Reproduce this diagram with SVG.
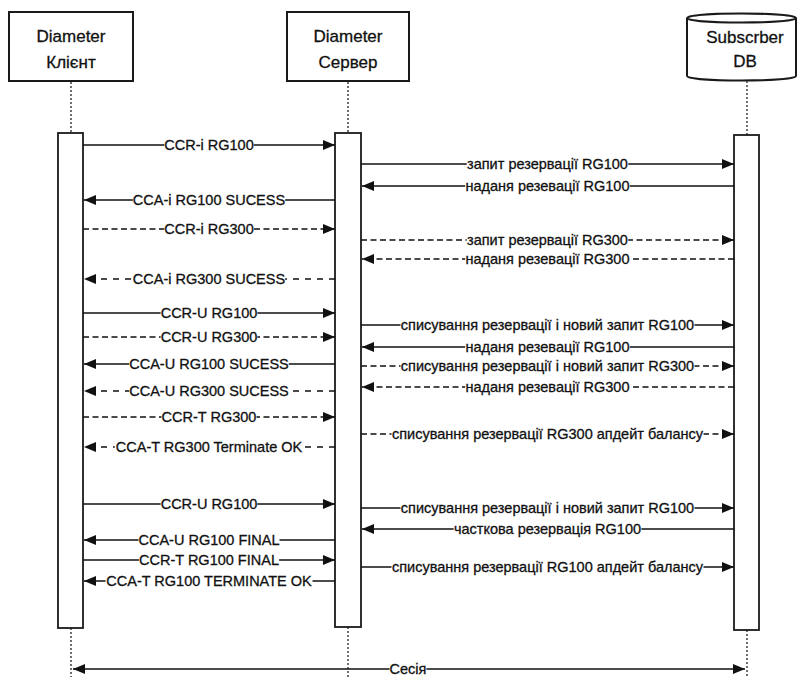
<svg xmlns="http://www.w3.org/2000/svg" width="798" height="677" viewBox="0 0 798 677">
<style>
.box{fill:#fff;stroke:#1a1a1a;stroke-width:2}
.bar{fill:#fff;stroke:#1a1a1a;stroke-width:1.8}
.life{stroke:#333;stroke-width:1.4;stroke-dasharray:2 2;fill:none}
.hdr{font-family:"Liberation Sans",Arial,sans-serif;font-size:17px;fill:#111;stroke:#111;stroke-width:0.3;text-anchor:middle}
.lbl{font-family:"Liberation Sans",Arial,sans-serif;font-size:14.5px;fill:#111;stroke:#111;stroke-width:0.3;text-anchor:middle}
.m{stroke:#111;stroke-width:1.5;fill:none;marker-end:url(#ah)}
.d{stroke-dasharray:6 3.5}
.d2{stroke-dasharray:6 6}
.bg{fill:#fff}
</style>
<defs>
<marker id="ah" viewBox="0 0 12 10" refX="12" refY="5" markerWidth="12" markerHeight="10" orient="auto-start-reverse" markerUnits="userSpaceOnUse"><path d="M0,0 L12,5 L0,10 z" fill="#111"/></marker>
</defs>
<rect width="798" height="677" fill="#fff"/>
<g id="client">
<rect class="box" x="9" y="12" width="124" height="69"/>
<text class="hdr" x="71" y="42">Diameter</text>
<text class="hdr" x="71" y="68">Клієнт</text>
<line class="life" x1="71" y1="82" x2="71" y2="133"/>
<line class="life" x1="71" y1="628" x2="71" y2="677"/>
<rect class="bar" x="58" y="133" width="25" height="495"/>
</g>
<g id="server">
<rect class="box" x="287" y="12" width="122" height="69"/>
<text class="hdr" x="348" y="42">Diameter</text>
<text class="hdr" x="348" y="68">Сервер</text>
<line class="life" x1="348" y1="82" x2="348" y2="133"/>
<line class="life" x1="348" y1="627" x2="348" y2="677"/>
<rect class="bar" x="335" y="133" width="26" height="494"/>
</g>
<g id="db">
<path class="box" d="M687,18 L687,76 A54.5,4.5 0 0 0 796,76 L796,18"/>
<ellipse class="box" cx="741.5" cy="18" rx="54.5" ry="4.5"/>
<text class="hdr" x="745" y="43">Subscrber</text>
<text class="hdr" x="745" y="67">DB</text>
<line class="life" x1="747" y1="81" x2="747" y2="135"/>
<line class="life" x1="747" y1="630" x2="747" y2="677"/>
<rect class="bar" x="734" y="135" width="25" height="495"/>
</g>
<g id="connectors">
<line class="m" x1="83" y1="145" x2="335" y2="145"/>
<rect class="bg" x="164.3" y="142.5" width="89.4" height="5"/><text class="lbl" x="209" y="150">CCR-i RG100</text>
<line class="m" x1="335" y1="200" x2="84" y2="200"/>
<rect class="bg" x="132.85" y="197.5" width="152.3" height="5"/><text class="lbl" x="209" y="205">CCA-i RG100 SUCESS</text>
<line class="m d" x1="83" y1="229" x2="335" y2="229"/>
<rect class="bg" x="164.3" y="226.5" width="89.4" height="5"/><text class="lbl" x="209" y="234">CCR-i RG300</text>
<line class="m d2" x1="335" y1="279" x2="84" y2="279"/>
<rect class="bg" x="132.85" y="276.5" width="152.3" height="5"/><text class="lbl" x="209" y="284">CCA-i RG300 SUCESS</text>
<line class="m" x1="83" y1="313" x2="335" y2="313"/>
<rect class="bg" x="160.65" y="310.5" width="96.7" height="5"/><text class="lbl" x="209" y="318">CCR-U RG100</text>
<line class="m d" x1="83" y1="337" x2="335" y2="337"/>
<rect class="bg" x="160.65" y="334.5" width="96.7" height="5"/><text class="lbl" x="209" y="342">CCR-U RG300</text>
<line class="m" x1="335" y1="364" x2="84" y2="364"/>
<rect class="bg" x="129.25" y="361.5" width="159.5" height="5"/><text class="lbl" x="209" y="369">CCA-U RG100 SUCESS</text>
<line class="m d2" x1="335" y1="391" x2="84" y2="391"/>
<rect class="bg" x="129.25" y="388.5" width="159.5" height="5"/><text class="lbl" x="209" y="396">CCA-U RG300 SUCESS</text>
<line class="m d" x1="83" y1="417" x2="335" y2="417"/>
<rect class="bg" x="161.45" y="414.5" width="95.1" height="5"/><text class="lbl" x="209" y="422">CCR-T RG300</text>
<line class="m d2" x1="335" y1="447" x2="84" y2="447"/>
<rect class="bg" x="114.75" y="444.5" width="188.5" height="5"/><text class="lbl" x="209" y="452">CCA-T RG300 Terminate OK</text>
<line class="m" x1="83" y1="504" x2="335" y2="504"/>
<rect class="bg" x="160.65" y="501.5" width="96.7" height="5"/><text class="lbl" x="209" y="509">CCR-U RG100</text>
<line class="m" x1="335" y1="540" x2="84" y2="540"/>
<rect class="bg" x="138.5" y="537.5" width="141" height="5"/><text class="lbl" x="209" y="545">CCA-U RG100 FINAL</text>
<line class="m" x1="83" y1="560" x2="335" y2="560"/>
<rect class="bg" x="138.9" y="557.5" width="140.2" height="5"/><text class="lbl" x="209" y="565">CCR-T RG100 FINAL</text>
<line class="m" x1="335" y1="581" x2="84" y2="581"/>
<rect class="bg" x="105.5" y="578.5" width="207" height="5"/><text class="lbl" x="209" y="586">CCA-T RG100 TERMINATE OK</text>

<line class="m" x1="361" y1="164" x2="734" y2="164"/>
<rect class="bg" x="466.75" y="161.5" width="161.5" height="5"/><text class="lbl" x="547.5" y="169">запит резервації RG100</text>
<line class="m" x1="734" y1="186" x2="362" y2="186"/>
<rect class="bg" x="465.2" y="183.5" width="164.6" height="5"/><text class="lbl" x="547.5" y="191">наданя резевації RG100</text>
<line class="m d" x1="361" y1="240" x2="734" y2="240"/>
<rect class="bg" x="466.75" y="237.5" width="161.5" height="5"/><text class="lbl" x="547.5" y="245">запит резервації RG300</text>
<line class="m d" x1="734" y1="259" x2="362" y2="259"/>
<rect class="bg" x="465.2" y="256.5" width="164.6" height="5"/><text class="lbl" x="547.5" y="264">наданя резевації RG300</text>
<line class="m" x1="361" y1="325" x2="734" y2="325"/>
<rect class="bg" x="400.5" y="322.5" width="294" height="5"/><text class="lbl" x="547.5" y="330">списування резервації і новий запит RG100</text>
<line class="m" x1="734" y1="347" x2="362" y2="347"/>
<rect class="bg" x="465.2" y="344.5" width="164.6" height="5"/><text class="lbl" x="547.5" y="352">наданя резевації RG100</text>
<line class="m d" x1="361" y1="366" x2="734" y2="366"/>
<rect class="bg" x="400.5" y="363.5" width="294" height="5"/><text class="lbl" x="547.5" y="371">списування резервації і новий запит RG300</text>
<line class="m d" x1="734" y1="387" x2="362" y2="387"/>
<rect class="bg" x="465.2" y="384.5" width="164.6" height="5"/><text class="lbl" x="547.5" y="392">наданя резевації RG300</text>
<line class="m d" x1="361" y1="434" x2="734" y2="434"/>
<rect class="bg" x="391.5" y="431.5" width="312" height="5"/><text class="lbl" x="547.5" y="439">списування резервації RG300 апдейт балансу</text>
<line class="m" x1="361" y1="508" x2="734" y2="508"/>
<rect class="bg" x="400.5" y="505.5" width="294" height="5"/><text class="lbl" x="547.5" y="513">списування резервації і новий запит RG100</text>
<line class="m" x1="734" y1="529" x2="362" y2="529"/>
<rect class="bg" x="453.65" y="526.5" width="187.7" height="5"/><text class="lbl" x="547.5" y="534">часткова резервація RG100</text>
<line class="m" x1="361" y1="567" x2="734" y2="567"/>
<rect class="bg" x="391.5" y="564.5" width="312" height="5"/><text class="lbl" x="547.5" y="572">списування резервації RG100 апдейт балансу</text>

<line class="m" style="marker-start:url(#ah)" x1="73" y1="669" x2="745" y2="669"/>
<rect class="bg" x="389.55" y="666.5" width="36.9" height="5"/><text class="lbl" x="408" y="674">Сесія</text>
</g>
</svg>
